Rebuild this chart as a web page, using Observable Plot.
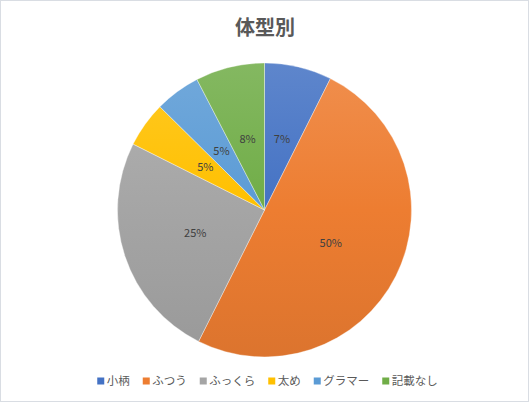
<!DOCTYPE html>
<html><head><meta charset="utf-8">
<script src="https://cdn.jsdelivr.net/npm/d3@7"></script>
<script src="https://cdn.jsdelivr.net/npm/@observablehq/plot@0.6"></script>
<style>
html,body{margin:0;padding:0;background:#fff;}
#chart{width:529px;height:402px;}
</style>
</head><body><div id="chart"></div>
<script>
const title = "体型別";
const categories = ["小柄", "ふつう", "ふっくら", "太め", "グラマー", "記載なし"];
const values = [7.4, 50.0, 25.0, 5.0, 5.0, 7.6];
const labels = ["7%", "50%", "25%", "5%", "5%", "8%"];
const colors = ["#4472C4", "#ED7D31", "#A5A5A5", "#FFC000", "#5B9BD5", "#70AD47"];

const FONT = "'Noto Sans CJK JP', 'Noto Sans', sans-serif";
const W = 529, H = 402;
const cx = 264.5, cy = 210, R = 147;

const pie = d3.pie().sort(null).value(d => d.value).startAngle(0).endAngle(2 * Math.PI);
const data = categories.map((c, i) => ({cat: c, value: values[i], label: labels[i]}));
const arcs = pie(data);
// label positions in unit (scale) space at half radius along the mid-angle
const labelData = arcs.map(a => {
  const m = (a.startAngle + a.endAngle) / 2;
  return {x: 0.5 * Math.sin(m), y: 0.5 * Math.cos(m), label: a.data.label};
});

function pieMark(index, scales) {
  const g = d3.create("svg:g");
  const x0 = scales.x(0), y0 = scales.y(0);
  const r = scales.x(1) - scales.x(0);
  const defs = g.append("defs");
  categories.forEach((c, i) => {
    const base = scales.color(c);
    const lg = defs.append("linearGradient").attr("id", "grad" + i)
      .attr("gradientUnits", "userSpaceOnUse")
      .attr("x1", 0).attr("x2", 0).attr("y1", -r).attr("y2", r);
    lg.append("stop").attr("offset", 0).attr("stop-color", d3.interpolateRgb(base, "#fff")(0.14));
    lg.append("stop").attr("offset", 0.5).attr("stop-color", base);
    lg.append("stop").attr("offset", 1).attr("stop-color", d3.interpolateRgb(base, "#000")(0.07));
  });
  const arc = d3.arc().innerRadius(0).outerRadius(r);
  g.append("g").attr("transform", `translate(${x0},${y0})`)
    .selectAll("path").data(arcs).join("path")
    .attr("d", arc)
    .attr("fill", (d, i) => `url(#grad${i})`)
    .attr("stroke", "#fff").attr("stroke-width", 0.6).attr("stroke-opacity", 0.6);
  return g.node();
}

function legendMark(index, scales) {
  const g = d3.create("svg:g");
  const fs = 11.5, sw = 7, gap1 = 2.5, gap2 = 13;
  const widths = categories.map(c => c.length * fs);
  const total = d3.sum(widths) + categories.length * (sw + gap1) + (categories.length - 1) * gap2;
  let xpos = 267.5 - total / 2;
  const ly = 381;
  categories.forEach((c, i) => {
    g.append("rect").attr("x", xpos).attr("y", ly - sw / 2).attr("width", sw).attr("height", sw)
      .attr("fill", scales.color(c));
    xpos += sw + gap1;
    g.append("text").attr("x", xpos).attr("y", ly).attr("dy", "0.36em").attr("text-anchor", "start")
      .attr("font-family", FONT).attr("font-size", fs).attr("fill", "#595959").text(c);
    xpos += widths[i] + gap2;
  });
  g.append("text").attr("x", 265).attr("y", 28).attr("dy", "0.36em").attr("text-anchor", "middle")
    .attr("font-family", FONT).attr("font-size", 20).attr("font-weight", "bold").attr("fill", "#595959")
    .text(title);
  g.append("rect").attr("x", 0.5).attr("y", 0.5).attr("width", W - 1).attr("height", H - 1)
    .attr("fill", "none").attr("stroke", "#D9DDE3");
  return g.node();
}

const chart = Plot.plot({
  width: W, height: H, margin: 0,
  style: {background: "#fff", fontFamily: FONT},
  x: {domain: [-1, 1], range: [cx - R, cx + R], axis: null},
  y: {domain: [-1, 1], range: [cy + R, cy - R], axis: null},
  color: {domain: categories, range: colors},
  marks: [
    pieMark,
    Plot.text(labelData, {x: "x", y: "y", text: "label", fill: "#404040", fontSize: 11, fontFamily: FONT}),
    legendMark
  ]
});
document.getElementById("chart").appendChild(chart);
</script>
</body></html>
